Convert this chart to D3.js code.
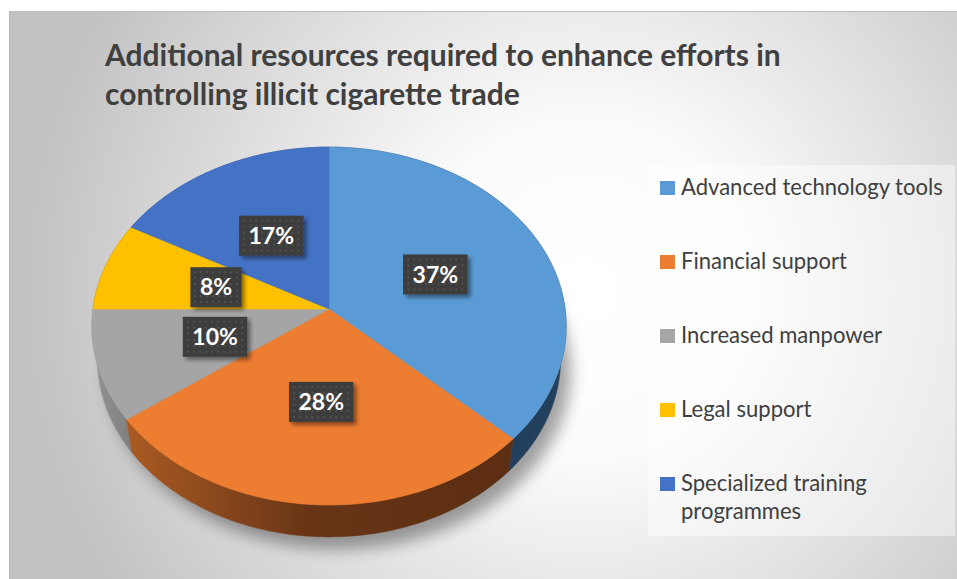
<!DOCTYPE html>
<html>
<head>
<meta charset="utf-8">
<script src="https://cdn.jsdelivr.net/npm/d3@7"></script>
<style>
  html, body { margin: 0; padding: 0; background: #ffffff; }
  svg { display: block; }
</style>
</head>
<body>
<svg id="chart" width="957" height="579"></svg>
<script>
// ---- data ----
const categories = ["Advanced technology tools", "Financial support", "Increased manpower", "Legal support", "Specialized training programmes"];
const shares = [37, 28, 10, 8, 17];
const valueLabels = ["37%", "28%", "10%", "8%", "17%"];
const legendLines = [["Advanced technology tools"], ["Financial support"], ["Increased manpower"], ["Legal support"], ["Specialized training", "programmes"]];
const titleLines = ["Additional resources required to enhance efforts in", "controlling illicit cigarette trade"];

// ---- styling ----
const topColors = ["#5b9bd5", "#ed7d31", "#a5a5a5", "#ffc000", "#4472c4"];
const sideColors = ["#22405b", "url(#sideOrange)", "url(#sideGray)", "#8c6a00", "#2b4b86"];

const W = 957, H = 579;
const svg = d3.select("#chart");
const defs = svg.append("defs");

// background gradient of the chart area
const bg = defs.append("radialGradient").attr("id", "bgGrad")
  .attr("gradientUnits", "userSpaceOnUse")
  .attr("cx", 585).attr("cy", 290).attr("r", 560);
bg.append("stop").attr("offset", 0).attr("stop-color", "#ffffff");
bg.append("stop").attr("offset", 0.3).attr("stop-color", "#fbfbfb");
bg.append("stop").attr("offset", 1).attr("stop-color", "#c2c2c2");

const gO = defs.append("linearGradient").attr("id", "sideOrange")
  .attr("gradientUnits", "userSpaceOnUse").attr("x1", 130).attr("x2", 520).attr("y1", 0).attr("y2", 0);
gO.append("stop").attr("offset", 0).attr("stop-color", "#a95a22");
gO.append("stop").attr("offset", 0.45).attr("stop-color", "#693516");
gO.append("stop").attr("offset", 1).attr("stop-color", "#5b2d12");

const gG = defs.append("linearGradient").attr("id", "sideGray")
  .attr("gradientUnits", "userSpaceOnUse").attr("x1", 90).attr("x2", 140).attr("y1", 0).attr("y2", 0);
gG.append("stop").attr("offset", 0).attr("stop-color", "#959595");
gG.append("stop").attr("offset", 1).attr("stop-color", "#7a7a7a");

const blurShadow = defs.append("filter").attr("id", "pieShadow")
  .attr("x", "-20%").attr("y", "-20%").attr("width", "140%").attr("height", "140%");
blurShadow.append("feGaussianBlur").attr("stdDeviation", 8);

const boxShadow = defs.append("filter").attr("id", "boxShadow")
  .attr("x", "-30%").attr("y", "-30%").attr("width", "160%").attr("height", "160%");
boxShadow.append("feGaussianBlur").attr("in", "SourceAlpha").attr("stdDeviation", 2).attr("result", "b");
boxShadow.append("feOffset").attr("in", "b").attr("dx", 3).attr("dy", 3).attr("result", "o");
boxShadow.append("feComponentTransfer").attr("in", "o").attr("result", "s")
  .append("feFuncA").attr("type", "linear").attr("slope", 0.45);
const bm = boxShadow.append("feMerge");
bm.append("feMergeNode").attr("in", "s");
bm.append("feMergeNode").attr("in", "SourceGraphic");

// dotted texture of the value boxes
const dots = defs.append("pattern").attr("id", "dots")
  .attr("patternUnits", "userSpaceOnUse").attr("width", 6).attr("height", 6);
dots.append("rect").attr("width", 6).attr("height", 6).attr("fill", "#3d3d3d");
dots.append("circle").attr("cx", 3).attr("cy", 3).attr("r", 0.9).attr("fill", "#5a5a5a");

// ---- chart area ----
svg.append("rect").attr("x", 9).attr("y", 11).attr("width", W - 9).attr("height", H - 11)
  .attr("fill", "url(#bgGrad)");
svg.append("line").attr("x1", 9).attr("x2", W).attr("y1", 11.5).attr("y2", 11.5)
  .attr("stroke", "#bdbdbd").attr("stroke-width", 1);
svg.append("line").attr("x1", 9.5).attr("x2", 9.5).attr("y1", 11).attr("y2", H)
  .attr("stroke", "#b8b8b8").attr("stroke-width", 1);

// ---- title ----
const title = svg.append("g").attr("transform", "translate(105,0)");
const titleText = title.selectAll("text").data(titleLines).join("text")
  .attr("x", 0).attr("y", (d, i) => 66 + i * 39)
  .attr("font-family", "Lato, 'Open Sans', sans-serif")
  .attr("font-weight", 700).attr("font-size", 30)
  .attr("fill", "#404040")
  .text(d => d);
{
  const w0 = titleText.nodes()[0].getComputedTextLength();
  const sx = 676 / w0;
  title.attr("transform", `translate(105,0) scale(${sx},1)`);
}

// ---- 3D pie projection ----
const cx = 329, cy = 309, focal = 1636, dist = 6.93, depth = 0.22;
const tilt = 48.7 * Math.PI / 180;
const sinT = Math.sin(tilt), cosT = Math.cos(tilt);
// theta: clockwise from 12 o'clock; r: fraction of radius; y: 0 on top face, -depth on bottom
function project(theta, r, y) {
  const X = r * Math.sin(theta), Z = r * Math.cos(theta);
  const u = y * cosT + Z * sinT;
  const d = Z * cosT - y * sinT;
  const s = focal / (dist + d);
  return [cx + X * s, cy - u * s];
}
function arcPoints(a0, a1, r, y) {
  const n = Math.max(2, Math.ceil(Math.abs(a1 - a0) / 0.01));
  return d3.range(n + 1).map(i => project(a0 + (a1 - a0) * i / n, r, y));
}
const line = d3.line().curve(d3.curveLinear);

const arcs = d3.pie().sort(null).value(d => d)(shares)
  .map((a, i) => ({ ...a, i, mid: (a.startAngle + a.endAngle) / 2 }));

// drop shadow beneath the pie
const outline = arcPoints(0, 2 * Math.PI, 1, -depth);
svg.append("path")
  .attr("d", line(outline) + "Z")
  .attr("transform", "translate(10,12)")
  .attr("fill", "#000").attr("opacity", 0.36)
  .attr("filter", "url(#pieShadow)");

// outer walls, back slices first
const wallOrder = arcs.slice().sort((a, b) => Math.cos(b.mid) - Math.cos(a.mid));
svg.append("g").selectAll("path").data(wallOrder).join("path")
  .attr("d", a => line(arcPoints(a.startAngle, a.endAngle, 1, 0)
      .concat(arcPoints(a.endAngle, a.startAngle, 1, -depth))) + "Z")
  .attr("fill", a => sideColors[a.i])
  .attr("stroke", a => sideColors[a.i]).attr("stroke-width", 0.5);

// top faces
svg.append("g").selectAll("path").data(arcs).join("path")
  .attr("d", a => line([project(0, 0, 0)].concat(arcPoints(a.startAngle, a.endAngle, 1, 0))) + "Z")
  .attr("fill", a => topColors[a.i])
  .attr("stroke", a => topColors[a.i]).attr("stroke-width", 0.6);

// value boxes
const lab = svg.append("g").selectAll("g").data(arcs).join("g")
  .attr("transform", a => { const p = project(a.mid, 0.5, 0); return `translate(${p[0]},${p[1]})`; });
lab.append("text")
  .attr("text-anchor", "middle").attr("dy", "0.36em")
  .attr("font-family", "Lato, 'Open Sans', sans-serif")
  .attr("font-weight", 700).attr("font-size", 23)
  .attr("fill", "#ffffff")
  .text(a => valueLabels[a.i]);
lab.each(function () {
  const g = d3.select(this);
  const w = g.select("text").node().getComputedTextLength() + 19;
  g.insert("rect", "text")
    .attr("x", -w / 2).attr("y", -20).attr("width", w).attr("height", 40)
    .attr("fill", "url(#dots)")
    .attr("filter", "url(#boxShadow)");
});

// ---- legend ----
svg.append("rect").attr("x", 648).attr("y", 165).attr("width", 307).attr("height", 371)
  .attr("fill", "#ffffff").attr("fill-opacity", 0.45);
const legend = svg.append("g");
const items = legend.selectAll("g").data(categories).join("g")
  .attr("transform", (d, i) => `translate(660,${195 + i * 74})`);
items.append("rect").attr("x", 0).attr("y", -14).attr("width", 15).attr("height", 14)
  .attr("fill", (d, i) => topColors[i]);
const legText = items.append("text")
  .attr("x", 21)
  .attr("font-family", "Lato, 'Open Sans', sans-serif")
  .attr("font-size", 22.5).attr("fill", "#404040");
legText.selectAll("tspan").data((d, i) => legendLines[i]).join("tspan")
  .attr("x", 21).attr("dy", (d, j) => j === 0 ? 0 : 28)
  .text(d => d);
{
  const w0 = legText.nodes()[0].getComputedTextLength();
  const sx = 262 / w0;
  legText.attr("transform", `translate(21,0) scale(${sx},1) translate(-21,0)`);
}
</script>
</body>
</html>
